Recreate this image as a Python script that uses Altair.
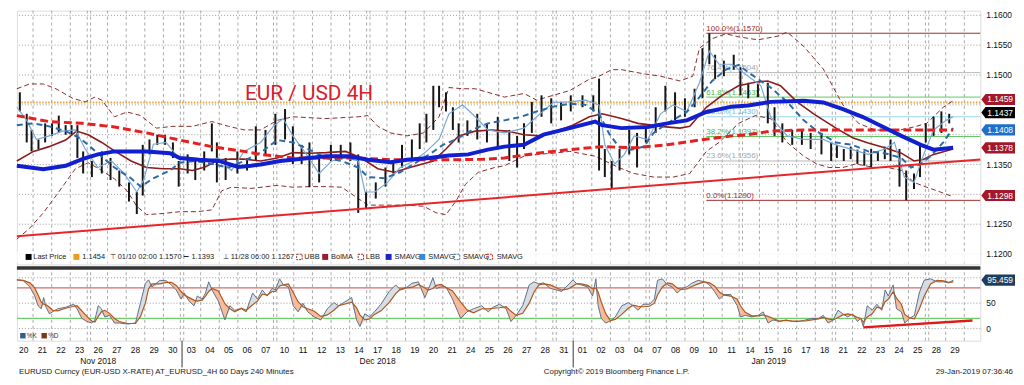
import json
import altair as alt
import pandas as pd

# ---------------- data ----------------
day_labels = ["20", "21", "22", "23", "26", "27", "28", "29", "30",
              "03", "04", "05", "06", "07", "10", "11", "12", "13", "14", "17", "18",
              "19", "20", "21", "24", "25", "26", "27", "28", "31",
              "01", "02", "03", "04", "07", "08", "09", "10", "11", "14", "15", "16",
              "17", "18", "21", "22", "23", "24", "25", "28", "29"]
month_names = ["Nov 2018", "Dec 2018", "Jan 2019"]
month_days = [9, 21, 21]
weekend_after = [3, 8, 13, 18, 23, 28, 33, 38, 43, 48]

price_labels = [1.1200, 1.1250, 1.1350, 1.1500, 1.1550, 1.1600]
stoch_labels = [0, 50]

# 4H price bars (time in trading days from 20 Nov), high / low
bar_t = [-0.21, 0.16, 0.42, 0.79, 1.15, 1.52, 1.88, 2.25, 2.57, 2.88,
         3.19, 3.66, 4.19, 4.66, 5.13, 5.65, 6.07, 6.39, 6.75, 7.17,
         7.59, 8.01, 8.32, 8.80, 9.21, 9.69, 10.10, 10.37, 10.84, 11.47,
         11.99, 12.46, 12.98, 13.51, 14.03, 14.45, 14.92, 15.34, 15.86, 16.49,
         17.02, 17.54, 17.96, 18.38, 18.90, 19.42, 19.84, 20.31, 20.84, 21.26,
         21.62, 21.99, 22.30, 22.67, 23.04, 23.35, 23.82, 24.35, 24.87, 25.45,
         26.07, 26.49, 26.86, 27.28, 27.80, 28.32, 28.85, 29.37, 30.00, 30.58,
         30.89, 31.20, 31.57, 31.99, 32.51, 32.93, 33.40, 33.93, 34.45, 34.97,
         35.50, 36.02, 36.44, 36.81, 37.12, 37.59, 38.12, 38.48, 38.90, 39.42,
         39.95, 40.31, 40.73, 41.26, 41.78, 42.25, 42.83, 43.35, 43.66, 44.03,
         44.40, 44.76, 45.13, 45.50, 45.86, 46.23, 46.54, 47.02, 47.38, 47.80,
         48.12, 48.43, 48.85, 49.27, 49.69]
bar_hi = [1.1471, 1.1435, 1.1408, 1.1392, 1.1419, 1.1419, 1.1432, 1.1416, 1.1416, 1.1416,
          1.1372, 1.1356, 1.1372, 1.1361, 1.1340, 1.1320, 1.1304, 1.1383, 1.1392, 1.1400,
          1.1400, 1.1387, 1.1356, 1.1367, 1.1356, 1.1372, 1.1419, 1.1387, 1.1361, 1.1372,
          1.1361, 1.1414, 1.1408, 1.1435, 1.1443, 1.1414, 1.1383, 1.1387, 1.1367, 1.1383,
          1.1383, 1.1387, 1.1367, 1.1304, 1.1320, 1.1345, 1.1356, 1.1383, 1.1392, 1.1419,
          1.1435, 1.1482, 1.1482, 1.1471, 1.1446, 1.1419, 1.1424, 1.1435, 1.1419, 1.1430,
          1.1408, 1.1398, 1.1419, 1.1455, 1.1466, 1.1461, 1.1455, 1.1466, 1.1466, 1.1466,
          1.1494, 1.1376, 1.1356, 1.1376, 1.1408, 1.1403, 1.1414, 1.1446, 1.1482, 1.1471,
          1.1461, 1.1477, 1.1545, 1.1570, 1.1534, 1.1524, 1.1534, 1.1513, 1.1487, 1.1485,
          1.1487, 1.1446, 1.1419, 1.1408, 1.1408, 1.1403, 1.1403, 1.1387, 1.1383, 1.1376,
          1.1380, 1.1375, 1.1372, 1.1376, 1.1372, 1.1380, 1.1392, 1.1376, 1.1340, 1.1335,
          1.1383, 1.1419, 1.1430, 1.1439, 1.1435]
bar_lo = [1.1439, 1.1387, 1.1372, 1.1376, 1.1387, 1.1398, 1.1403, 1.1400, 1.1400, 1.1361,
          1.1335, 1.1329, 1.1335, 1.1324, 1.1313, 1.1288, 1.1267, 1.1298, 1.1367, 1.1383,
          1.1383, 1.1361, 1.1313, 1.1335, 1.1324, 1.1340, 1.1372, 1.1320, 1.1324, 1.1335,
          1.1340, 1.1356, 1.1367, 1.1383, 1.1392, 1.1351, 1.1351, 1.1312, 1.1320, 1.1356,
          1.1361, 1.1356, 1.1269, 1.1277, 1.1293, 1.1313, 1.1335, 1.1345, 1.1361, 1.1376,
          1.1387, 1.1408, 1.1446, 1.1439, 1.1408, 1.1387, 1.1398, 1.1392, 1.1387, 1.1376,
          1.1356, 1.1345, 1.1376, 1.1403, 1.1430, 1.1419, 1.1424, 1.1439, 1.1446, 1.1439,
          1.1340, 1.1329, 1.1309, 1.1340, 1.1367, 1.1345, 1.1387, 1.1403, 1.1439, 1.1424,
          1.1430, 1.1446, 1.1461, 1.1518, 1.1493, 1.1498, 1.1509, 1.1466, 1.1461, 1.1463,
          1.1419, 1.1398, 1.1387, 1.1383, 1.1383, 1.1376, 1.1367, 1.1356, 1.1361, 1.1356,
          1.1359, 1.1351, 1.1348, 1.1345, 1.1356, 1.1359, 1.1356, 1.1313, 1.1290, 1.1309,
          1.1329, 1.1387, 1.1398, 1.1403, 1.1419]

# SMAVG (thick dark blue)
sma_blue_t = [-0.37, 1.05, 2.25, 3.14, 3.98, 4.87, 6.60, 7.85, 8.38, 9.42, 10.47, 11.52,
              12.20, 12.72, 13.77, 15.34, 16.23, 17.43, 18.48, 19.69, 20.58, 21.78, 22.83,
              23.87, 24.92, 25.81, 26.86, 27.91, 29.32, 30.68, 31.05, 32.09, 33.51, 34.55,
              35.60, 36.65, 38.01, 38.90, 40.10, 41.88, 42.93, 43.98, 45.03, 46.07, 47.12,
              48.17, 48.85, 49.90]
sma_blue_v = [1.1348, 1.1342, 1.1348, 1.1359, 1.1367, 1.1372, 1.1372, 1.1369, 1.1361, 1.1358,
              1.1356, 1.1346, 1.1348, 1.1350, 1.1356, 1.1361, 1.1364, 1.1364, 1.1358, 1.1354,
              1.1358, 1.1361, 1.1365, 1.1367, 1.1375, 1.1380, 1.1383, 1.1400, 1.1411, 1.1422,
              1.1416, 1.1411, 1.1413, 1.1419, 1.1424, 1.1438, 1.1447, 1.1449, 1.1455, 1.1457,
              1.1454, 1.1443, 1.1430, 1.1414, 1.1398, 1.1383, 1.1375, 1.1378]
# SMAVG (thick red dashed)
sma_red_t = [-0.37, 1.36, 3.14, 4.87, 6.60, 8.38, 10.10, 11.83, 12.72, 14.45, 16.23, 17.96,
             19.69, 21.47, 23.19, 24.92, 25.81, 27.54, 29.32, 31.05, 32.77, 34.55, 36.28,
             38.01, 38.90, 40.10, 41.88, 43.61, 45.34, 47.12, 48.85, 49.90]
sma_red_v = [1.1432, 1.1422, 1.1419, 1.1413, 1.1403, 1.1391, 1.1380, 1.1372, 1.1367, 1.1361,
             1.1361, 1.1361, 1.1358, 1.1358, 1.1358, 1.1359, 1.1361, 1.1369, 1.1375, 1.1380,
             1.1378, 1.1383, 1.1391, 1.1398, 1.1400, 1.1406, 1.1408, 1.1408, 1.1408, 1.1408,
             1.1408, 1.1408]
# BolMA (dark red)
bolma_t = [-0.37, 0.52, 1.36, 2.25, 2.83, 3.46, 4.19, 4.87, 5.76, 6.60, 7.49, 8.38, 9.06,
           9.74, 10.47, 11.15, 11.83, 12.72, 13.61, 14.45, 15.34, 16.23, 17.28, 18.12, 19.01,
           19.90, 20.73, 21.99, 22.67, 23.35, 24.24, 25.13, 25.97, 26.86, 27.75, 28.59, 29.48,
           30.37, 31.05, 32.09, 32.98, 34.19, 35.24, 35.76, 36.65, 37.49, 38.38, 39.27, 39.95,
           40.63, 41.52, 42.41, 43.61, 44.50, 45.34, 46.23, 47.12, 47.80, 48.32, 48.85, 49.90]
bolma_v = [1.1356, 1.1372, 1.1380, 1.1391, 1.1406, 1.1400, 1.1387, 1.1373, 1.1356, 1.1345,
           1.1343, 1.1343, 1.1340, 1.1346, 1.1358, 1.1359, 1.1359, 1.1356, 1.1361, 1.1370,
           1.1369, 1.1370, 1.1372, 1.1361, 1.1343, 1.1337, 1.1345, 1.1356, 1.1376, 1.1398,
           1.1406, 1.1408, 1.1406, 1.1400, 1.1398, 1.1406, 1.1416, 1.1430, 1.1435, 1.1427,
           1.1419, 1.1414, 1.1411, 1.1414, 1.1446, 1.1466, 1.1482, 1.1488, 1.1490, 1.1482,
           1.1455, 1.1435, 1.1411, 1.1395, 1.1386, 1.1378, 1.1369, 1.1356, 1.1359, 1.1367,
           1.1376]
# UBB / LBB
ubb_t = [-0.37, 0.31, 1.05, 1.73, 2.62, 3.30, 3.82, 4.19, 4.87, 5.55, 6.28, 7.12, 8.01, 9.06,
         10.10, 11.00, 11.83, 12.72, 13.61, 14.45, 16.23, 17.96, 18.48, 19.01, 19.69, 20.58,
         21.47, 22.30, 22.83, 23.56, 24.24, 24.92, 25.81, 26.86, 27.54, 28.43, 29.32, 30.37,
         30.89, 31.57, 32.09, 33.30, 34.19, 35.24, 35.92, 36.28, 36.96, 37.70, 38.38, 39.42,
         40.47, 40.99, 41.88, 42.93, 43.98, 44.82, 45.71, 46.75, 47.80, 48.48, 49.37, 49.90]
ubb_v = [1.1477, 1.1485, 1.1485, 1.1477, 1.1461, 1.1455, 1.1463, 1.1458, 1.1430, 1.1438,
         1.1432, 1.1411, 1.1414, 1.1414, 1.1422, 1.1414, 1.1408, 1.1408, 1.1424, 1.1430,
         1.1427, 1.1430, 1.1432, 1.1414, 1.1403, 1.1398, 1.1403, 1.1430, 1.1479, 1.1477,
         1.1477, 1.1471, 1.1463, 1.1469, 1.1458, 1.1466, 1.1474, 1.1493, 1.1498, 1.1509,
         1.1509, 1.1502, 1.1498, 1.1490, 1.1498, 1.1545, 1.1561, 1.1569, 1.1564, 1.1559,
         1.1565, 1.1572, 1.1548, 1.1510, 1.1450, 1.1419, 1.1408, 1.1406, 1.1413, 1.1419,
         1.1446, 1.1457]
lbb_t = [-0.37, 0.31, 1.05, 1.88, 2.77, 3.46, 4.03, 4.87, 5.55, 6.07, 6.60, 7.49, 8.38, 9.32,
         10.10, 10.63, 11.15, 12.20, 13.61, 14.45, 15.34, 16.23, 17.07, 17.96, 18.48, 19.69,
         20.58, 21.47, 22.15, 22.67, 23.19, 23.72, 24.40, 25.29, 25.81, 26.86, 27.54, 28.43,
         29.32, 30.68, 31.94, 32.77, 33.82, 34.87, 35.76, 36.65, 37.33, 38.38, 39.27, 40.10,
         40.99, 41.88, 42.57, 43.25, 43.98, 44.66, 45.71, 46.39, 47.12, 47.80, 48.48, 49.21,
         49.90]
lbb_v = [1.1225, 1.1243, 1.1269, 1.1304, 1.1343, 1.1353, 1.1343, 1.1326, 1.1306, 1.1280,
         1.1266, 1.1268, 1.1271, 1.1271, 1.1274, 1.1306, 1.1312, 1.1310, 1.1315, 1.1312,
         1.1313, 1.1313, 1.1312, 1.1293, 1.1282, 1.1282, 1.1282, 1.1280, 1.1269, 1.1266,
         1.1288, 1.1317, 1.1337, 1.1345, 1.1348, 1.1364, 1.1367, 1.1369, 1.1372, 1.1364,
         1.1345, 1.1335, 1.1329, 1.1329, 1.1335, 1.1372, 1.1387, 1.1419, 1.1432, 1.1427,
         1.1387, 1.1364, 1.1351, 1.1345, 1.1345, 1.1351, 1.1345, 1.1345, 1.1340, 1.1320,
         1.1312, 1.1304, 1.1296]
# SMAVG (blue dashed)
sma_dash_t = [-0.37, 0.52, 1.36, 2.25, 2.77, 3.14, 3.98, 4.87, 5.76, 6.28, 6.96, 7.85, 8.38,
              9.21, 10.10, 11.00, 11.83, 12.72, 13.61, 14.45, 15.34, 16.23, 17.07, 17.96,
              18.48, 19.37, 20.21, 20.94, 21.78, 22.51, 23.19, 24.08, 24.92, 25.81, 26.70,
              27.54, 28.43, 29.32, 30.16, 30.89, 31.41, 31.94, 32.62, 33.30, 33.82, 34.55,
              35.60, 36.28, 36.96, 37.70, 38.38, 39.06, 40.10, 40.99, 41.88, 42.72, 43.61,
              44.50, 45.34, 46.23, 47.12, 47.64, 48.17, 48.69, 49.37, 49.90]
sma_dash_v = [1.1416, 1.1419, 1.1414, 1.1406, 1.1398, 1.1391, 1.1369, 1.1345, 1.1327, 1.1313,
              1.1327, 1.1340, 1.1353, 1.1356, 1.1351, 1.1345, 1.1356, 1.1370, 1.1391, 1.1387,
              1.1375, 1.1361, 1.1356, 1.1345, 1.1329, 1.1327, 1.1337, 1.1351, 1.1367, 1.1383,
              1.1392, 1.1408, 1.1419, 1.1424, 1.1430, 1.1439, 1.1447, 1.1452, 1.1450, 1.1435,
              1.1403, 1.1380, 1.1375, 1.1380, 1.1403, 1.1419, 1.1438, 1.1463, 1.1490, 1.1509,
              1.1517, 1.1501, 1.1479, 1.1455, 1.1424, 1.1403, 1.1387, 1.1383, 1.1372, 1.1369,
              1.1361, 1.1345, 1.1351, 1.1364, 1.1387, 1.1411]
# SMAVG (light blue, short)
sma_fast_t = [-0.37, 0.16, 0.68, 1.36, 2.09, 2.77, 3.30, 3.98, 4.71, 5.39, 6.07, 6.44, 6.96,
              7.64, 8.38, 9.06, 9.74, 10.47, 11.15, 11.83, 12.72, 13.40, 13.93, 14.45, 15.18,
              15.86, 16.54, 17.28, 17.96, 18.32, 18.85, 19.53, 20.21, 20.94, 21.62, 22.30,
              22.83, 23.56, 24.24, 24.92, 25.81, 26.86, 27.54, 28.43, 29.32, 30.16, 30.89,
              31.20, 31.73, 32.25, 32.77, 33.51, 34.19, 34.87, 35.60, 36.28, 36.81, 37.33,
              38.01, 38.90, 39.58, 40.10, 40.99, 41.88, 42.93, 43.61, 44.50, 45.34, 46.23,
              46.75, 47.28, 47.80, 48.32, 48.85, 49.53, 49.90]
sma_fast_v = [1.1446, 1.1424, 1.1392, 1.1398, 1.1406, 1.1408, 1.1376, 1.1345, 1.1356, 1.1335,
              1.1304, 1.1324, 1.1384, 1.1387, 1.1359, 1.1361, 1.1356, 1.1361, 1.1340, 1.1372,
              1.1387, 1.1414, 1.1427, 1.1398, 1.1367, 1.1335, 1.1356, 1.1361, 1.1356, 1.1304,
              1.1304, 1.1320, 1.1345, 1.1356, 1.1372, 1.1392, 1.1435, 1.1450, 1.1430, 1.1408,
              1.1403, 1.1411, 1.1430, 1.1454, 1.1455, 1.1458, 1.1450, 1.1383, 1.1351, 1.1367,
              1.1398, 1.1392, 1.1435, 1.1450, 1.1439, 1.1487, 1.1540, 1.1518, 1.1518, 1.1498,
              1.1482, 1.1430, 1.1398, 1.1392, 1.1392, 1.1383, 1.1375, 1.1367, 1.1376, 1.1387,
              1.1329, 1.1320, 1.1367, 1.1408, 1.1424, 1.1430]

trend_t = [-0.37, 51.36]
trend_v = [1.12299, 1.13585]
last_price_line = 1.1454

fib_names = ["100.0%", "76.4%", "61.8%", "50.0%", "38.2%", "23.6%", "0.0%"]
fib_levels = [1.1570, 1.1504, 1.1463, 1.1430, 1.1397, 1.1356, 1.1290]
fib_start = 36.65

tag_values = [1.1459, 1.1437, 1.1408, 1.1378, 1.1298]

# Stochastic %K / %D
stoch_t = [-0.37, -0.02, 0.33, 0.59, 0.77, 0.94, 1.07, 1.20, 1.38, 1.55,
           1.82, 2.25, 2.69, 2.86, 3.12, 3.39, 3.65, 3.82, 4.00, 4.17,
           4.35, 4.61, 4.87, 5.13, 5.57, 6.00, 6.27, 6.53, 6.70, 6.88,
           7.31, 7.66, 7.92, 8.19, 8.45, 8.62, 8.88, 9.14, 9.32, 9.58,
           9.76, 9.93, 10.11, 10.45, 10.80, 11.07, 11.33, 11.68, 11.94, 12.29,
           12.55, 12.81, 13.07, 13.33, 13.51, 13.74, 13.94, 14.21, 14.47, 14.73,
           14.99, 15.25, 15.60, 15.95, 16.30, 16.65, 16.91, 17.61, 17.87, 18.05,
           18.31, 18.57, 18.83, 19.18, 19.62, 19.97, 20.23, 20.49, 20.84, 21.19,
           21.54, 21.71, 21.97, 22.15, 22.41, 22.67, 23.02, 23.46, 23.80, 24.15,
           24.59, 24.94, 25.20, 25.55, 25.90, 26.16, 26.44, 26.79, 27.14, 27.40,
           27.66, 27.92, 28.27, 28.62, 28.88, 29.23, 29.49, 29.67, 29.93, 30.28,
           30.54, 30.72, 30.84, 31.01, 31.24, 31.50, 31.76, 32.11, 32.46, 32.72,
           32.98, 33.25, 33.60, 33.86, 34.03, 34.29, 34.56, 34.82, 35.08, 35.34,
           35.60, 35.86, 36.21, 36.56, 36.82, 37.09, 37.35, 37.61, 37.96, 38.31,
           38.48, 38.74, 39.09, 39.44, 39.70, 39.97, 40.23, 40.58, 40.93, 41.27,
           41.62, 41.97, 42.32, 42.67, 42.93, 43.19, 43.46, 43.72, 43.98, 44.24,
           44.50, 44.76, 44.94, 45.08, 45.29, 45.55, 45.81, 46.07, 46.25, 46.42,
           46.68, 46.86, 47.12, 47.30, 47.56, 47.82, 48.08, 48.34, 48.69, 49.04,
           49.39, 49.65, 49.91]
stoch_k = [96, 94, 82, 64, 45, 39, 61, 42, 29, 33,
           39, 42, 48, 39, 20, 14, 11, 17, 45, 39,
           23, 26, 11, 11, 9, 11, 51, 89, 96, 82,
           95, 94, 86, 76, 58, 70, 54, 45, 64, 58,
           70, 92, 76, 54, 17, 45, 36, 39, 33, 70,
           58, 76, 64, 79, 76, 98, 86, 82, 45, 33,
           50, 33, 23, 17, 39, 51, 45, 61, 17, 4,
           29, 23, 33, 48, 73, 86, 76, 79, 89, 92,
           61, 76, 100, 79, 82, 82, 58, 20, 33, 39,
           45, 33, 42, 48, 39, 14, 26, 45, 86, 92,
           88, 90, 79, 76, 73, 86, 96, 89, 86, 82,
           64, 98, 45, 20, 11, 15, 23, 45, 51, 45,
           36, 48, 48, 58, 95, 98, 86, 82, 70, 79,
           82, 89, 95, 92, 86, 73, 58, 67, 67, 45,
           23, 26, 23, 26, 33, 11, 17, 14, 17, 14,
           14, 17, 20, 20, 26, 11, 17, 36, 29, 23,
           29, 14, 20, 4, 45, 36, 48, 36, 76, 64,
           86, 39, 33, 11, 20, 26, 70, 95, 98, 92,
           92, 90, 95.459]
stoch_d = [96, 95, 90, 80, 66, 52, 48, 47, 42, 36,
           35, 40, 44, 45, 35, 24, 15, 13, 24, 33,
           36, 30, 20, 14, 10, 10, 24, 50, 78, 88,
           88, 91, 91, 85, 73, 66, 61, 56, 54, 56,
           64, 73, 79, 74, 49, 39, 33, 40, 36, 47,
           54, 68, 66, 73, 73, 84, 86, 88, 71, 53,
           43, 39, 34, 24, 27, 36, 45, 52, 41, 27,
           17, 19, 28, 35, 51, 69, 78, 80, 81, 87,
           80, 76, 79, 85, 87, 81, 74, 52, 37, 31,
           39, 39, 40, 41, 43, 34, 26, 30, 50, 72,
           86, 88, 86, 80, 76, 78, 84, 88, 88, 85,
           78, 80, 72, 52, 30, 16, 18, 28, 40, 46,
           44, 43, 44, 50, 66, 82, 90, 88, 80, 77,
           78, 83, 88, 92, 90, 84, 72, 66, 64, 58,
           45, 32, 25, 25, 27, 24, 20, 15, 16, 15,
           15, 15, 17, 19, 22, 19, 17, 22, 27, 29,
           27, 22, 20, 13, 23, 29, 42, 40, 53, 58,
           72, 60, 48, 28, 21, 19, 38, 63, 88, 95,
           94, 91, 92]
stoch_trend_t = [45.08, 50.94]
stoch_trend_v = [2.4, 16.1]
stoch_levels = [80, 20]

# ---------------- layout / style ----------------
W, H1, H2 = 972, 256, 75
FONT = "Liberation Sans"
xs = alt.Scale(domain=[-0.366, 51.36], nice=False, zero=False)
ys = alt.Scale(domain=[1.11827, 1.16079], nice=False, zero=False)
ss = alt.Scale(domain=[-23.8, 122.5], nice=False, zero=False)


def X(f="t"):
    return alt.X(f"{f}:Q", scale=xs, axis=None)


def Y(f="v"):
    return alt.Y(f"{f}:Q", scale=ys, axis=None)


def S(f="v"):
    return alt.Y(f"{f}:Q", scale=ss, axis=None)


def line_df(t, v):
    return pd.DataFrame({"t": t, "v": v})


one = pd.DataFrame({"a": [0]})

# vertical grid positions (day boundaries, doubled on weekends)
grid_t = []
for d in range(51):
    b = d + 0.5
    if d in weekend_after:
        grid_t += [b - 0.09, b + 0.09]
    else:
        grid_t.append(b)
vgrid_df = pd.DataFrame({"t": grid_t})

# ---------------- top panel ----------------
tick_vals = [round(1.12 + 0.0025 * i, 4) for i in range(17)]

hgrid = alt.Chart(pd.DataFrame({"v": [round(1.12 + 0.005 * i, 4) for i in range(9)]})).mark_rule(
    color="#9a9a9a", strokeDash=[1, 2], strokeWidth=1).encode(
    y=alt.Y("v:Q", scale=ys, axis=alt.Axis(
        orient="right", values=tick_vals, labels=False, title=None, grid=False,
        domainColor="#000", tickColor="#000", tickSize=4)))
p_labels = alt.Chart(pd.DataFrame({"v": price_labels, "label": [f"{v:.4f}" for v in price_labels]})).mark_text(
    align="left", baseline="middle", fontSize=8.5, font=FONT, color="#111").encode(
    x=alt.value(W + 6), y=Y(), text="label:N")

vgrid = alt.Chart(vgrid_df).mark_rule(color="#a8a8a8", strokeDash=[3, 3], strokeWidth=1).encode(x=X())

band = alt.Chart(one).mark_rect(color="white", opacity=0.8).encode(
    x=alt.value(0), x2=alt.value(W), y=alt.value(243), y2=alt.value(254))

lp_line = alt.Chart(pd.DataFrame({"v": [last_price_line]})).mark_rule(
    color="#e8a534", strokeDash=[1.5, 1.5], strokeWidth=2).encode(y=Y())

fib_colors = ["#a02a2a", "#b8b8b8", "#62c862", "#92d4ee", "#62c862", "#b8b8b8", "#a02a2a"]
fib_text_colors = ["#a02a2a", "#a8a8a8", "#4cb84c", "#70c0e0", "#4cb84c", "#a8a8a8", "#a02a2a"]
fib_df = pd.DataFrame({
    "t0": [fib_start] * len(fib_levels), "t1": [51.36] * len(fib_levels),
    "v": fib_levels, "c": fib_colors, "tc": fib_text_colors,
    "label": [f"{n}({l:.4f})" for n, l in zip(fib_names, fib_levels)]})
fib_lines = alt.Chart(fib_df).mark_rule(strokeWidth=1).encode(
    x=alt.X("t0:Q", scale=xs, axis=None), x2="t1:Q", y=Y(), color=alt.Color("c:N", scale=None))
fib_text = alt.Chart(fib_df).mark_text(align="left", baseline="bottom", dy=-0.5, fontSize=8,
                                       font=FONT).encode(
    x=alt.X("t0:Q", scale=xs, axis=None), y=Y(), text="label:N", color=alt.Color("tc:N", scale=None))

ubb = alt.Chart(line_df(ubb_t, ubb_v)).mark_line(color="#8a2c2c", strokeWidth=1, strokeDash=[5, 3]).encode(x=X(), y=Y())
lbb = alt.Chart(line_df(lbb_t, lbb_v)).mark_line(color="#8a2c2c", strokeWidth=1, strokeDash=[5, 3]).encode(x=X(), y=Y())
bars = alt.Chart(pd.DataFrame({"t": bar_t, "hi": bar_hi, "lo": bar_lo})).mark_rule(
    color="#151515", strokeWidth=2).encode(x=X(), y=Y("lo"), y2="hi:Q")
bolma = alt.Chart(line_df(bolma_t, bolma_v)).mark_line(color="#8a1c1c", strokeWidth=1.6).encode(x=X(), y=Y())
sma_fast = alt.Chart(line_df(sma_fast_t, sma_fast_v)).mark_line(color="#78a8d8", strokeWidth=1.2).encode(x=X(), y=Y())
sma_dash = alt.Chart(line_df(sma_dash_t, sma_dash_v)).mark_line(color="#2a6aa8", strokeWidth=2, strokeDash=[6, 4]).encode(x=X(), y=Y())
sma_red = alt.Chart(line_df(sma_red_t, sma_red_v)).mark_line(color="#e62020", strokeWidth=3, strokeDash=[8, 4]).encode(x=X(), y=Y())
sma_blue = alt.Chart(line_df(sma_blue_t, sma_blue_v)).mark_line(color="#1020d0", strokeWidth=4).encode(x=X(), y=Y())
trend = alt.Chart(line_df(trend_t, trend_v)).mark_line(color="#e8262a", strokeWidth=2).encode(x=X(), y=Y())

title = alt.Chart(pd.DataFrame({"t": [11.88], "v": [1.1458], "label": ["EUR / USD 4H"]})).mark_text(
    align="left", baseline="alphabetic", fontSize=21, font="Roboto", color="#d8202a").encode(
    x=X(), y=Y(), text="label:N")

# legend strip
leg_items = pd.DataFrame({
    "px": [16.5, 66, 93.5, 168, 207.6, 290, 317, 352, 381, 415, 450, 484],
    "label": ["Last Price", "1.1454", "\u22a4 01/10 02:00 1.1570", "\u22a2 1.1393",
              "\u22a5 11/28 06:00 1.1267", "UBB", "BolMA", "LBB", "SMAVG", "SMAVG", "SMAVG", "SMAVG"]})
leg_text = alt.Chart(leg_items).mark_text(align="left", baseline="middle", fontSize=7.5, font=FONT,
                                          color="#222").encode(
    x=alt.X("px:Q", scale=None), y=alt.value(248.5), text="label:N")
leg_sq = pd.DataFrame({"px": [11.8, 60, 311, 375, 409], "c": ["#000000", "#f09a1e", "#9b1b30", "#1a22c8", "#2f8ce8"]})
leg_squares = alt.Chart(leg_sq).mark_point(shape="square", filled=True, size=36, opacity=1).encode(
    x=alt.X("px:Q", scale=None), y=alt.value(248.5), color=alt.Color("c:N", scale=None))
leg_br = pd.DataFrame({"px": [285, 347, 444, 477], "c": ["#8a2c2c", "#8a2c2c", "#2a6aa8", "#e62020"]})
leg_brackets = alt.Chart(leg_br).mark_point(shape="square", filled=False, size=30, strokeWidth=1,
                                            strokeDash=[2, 1], opacity=1).encode(
    x=alt.X("px:Q", scale=None), y=alt.value(248.5), color=alt.Color("c:N", scale=None))

TAG = "M -1 0 L -0.75 -0.33 L 1 -0.33 L 1 0.33 L -0.75 0.33 Z"
tag_df = pd.DataFrame({"v": tag_values, "c": ["#a3172b", "#000000", "#1e6fc8", "#a3172b", "#a3172b"],
                       "label": [f"{v:.4f}" for v in tag_values]})
tags = alt.Chart(tag_df).mark_point(shape=TAG, size=1156, filled=True, opacity=1, strokeWidth=0).encode(
    x=alt.value(W + 18), y=Y(), color=alt.Color("c:N", scale=None))
tag_text = alt.Chart(tag_df).mark_text(fontSize=8.5, font=FONT, color="white", baseline="middle").encode(
    x=alt.value(W + 20), y=Y(), text="label:N")

top = alt.layer(hgrid, vgrid, band, lp_line, fib_lines, fib_text, ubb, lbb, bars, bolma,
                sma_fast, sma_dash, sma_red, sma_blue, trend, title,
                leg_text, leg_squares, leg_brackets, p_labels, tags, tag_text).properties(width=W, height=H1)

# ---------------- bottom panel ----------------
st = pd.DataFrame({"t": stoch_t, "k": stoch_k, "d": stoch_d})
st["lo"] = st[["k", "d"]].min(axis=1)

s_hgrid = alt.Chart(pd.DataFrame({"v": [0, 50, 100]})).mark_rule(
    color="#9a9a9a", strokeDash=[1, 2], strokeWidth=1).encode(
    y=alt.Y("v:Q", scale=ss, axis=alt.Axis(
        orient="right", values=[0, 50, 100], labels=False, title=None, grid=False,
        domainColor="#000", tickColor="#000", tickSize=4)))
s_labels = alt.Chart(pd.DataFrame({"v": stoch_labels, "label": [str(v) for v in stoch_labels]})).mark_text(
    align="left", baseline="middle", fontSize=8.5, font=FONT, color="#111").encode(
    x=alt.value(W + 6), y=S(), text="label:N")
s_vgrid = alt.Chart(vgrid_df).mark_rule(color="#a8a8a8", strokeDash=[3, 3], strokeWidth=1).encode(x=X())
s_levels = alt.Chart(pd.DataFrame({"v": stoch_levels, "c": ["#d46a6a", "#6ccf6c"]})).mark_rule(
    strokeWidth=1.2).encode(y=S(), color=alt.Color("c:N", scale=None))
fill_d = alt.Chart(st).mark_area(color="#f6b592", opacity=0.9).encode(x=X(), y=S("d"), y2="lo:Q")
fill_k = alt.Chart(st).mark_area(color="#d3dae2", opacity=0.9).encode(x=X(), y=S("k"), y2="lo:Q")
k_line = alt.Chart(st).mark_line(color="#5c7088", strokeWidth=1).encode(x=X(), y=S("k"))
d_line = alt.Chart(st).mark_line(color="#b0581e", strokeWidth=1.2).encode(x=X(), y=S("d"))
s_trend = alt.Chart(line_df(stoch_trend_t, stoch_trend_v)).mark_line(
    color="#e01818", strokeWidth=2.5).encode(x=X(), y=S())
sep = alt.Chart(one).mark_rule(color="#353535", strokeWidth=3.5).encode(
    x=alt.value(0), x2=alt.value(W), y=alt.value(1.75))

s_leg = pd.DataFrame({"px": [6, 27.5], "c": ["#2d5e8e", "#7c3a14"], "label": ["%K", "%D"]})
s_leg_sq = alt.Chart(s_leg).mark_point(shape="square", filled=True, size=30, opacity=1).encode(
    x=alt.X("px:Q", scale=None), y=alt.value(70), color=alt.Color("c:N", scale=None))
s_leg_tx = alt.Chart(s_leg).mark_text(align="left", baseline="middle", fontSize=6.5, font=FONT,
                                      color="#333", dx=4).encode(
    x=alt.X("px:Q", scale=None), y=alt.value(70), text="label:N")

s_tag_df = pd.DataFrame({"v": [stoch_k[-1]], "label": [f"{stoch_k[-1]:.3f}"]})
s_tag = alt.Chart(s_tag_df).mark_point(shape=TAG, size=1156, filled=True, opacity=1, strokeWidth=0,
                                       color="#1c3d5e").encode(x=alt.value(W + 18), y=S())
s_tag_tx = alt.Chart(s_tag_df).mark_text(fontSize=8.5, font=FONT, color="white", baseline="middle").encode(
    x=alt.value(W + 20), y=S(), text="label:N")

# day labels, month labels and separators
days = alt.Chart(pd.DataFrame({"t": list(range(len(day_labels))), "label": day_labels})).mark_text(
    baseline="middle", fontSize=8.5, font=FONT, color="#111").encode(
    x=X(), y=alt.value(H2 + 9), text="label:N")
centers, start = [], 0
for n in month_days:
    centers.append(start + (n - 1) / 2)
    start += n
months = alt.Chart(pd.DataFrame({"t": centers, "label": month_names})).mark_text(
    baseline="middle", fontSize=8.5, font=FONT, color="#111").encode(
    x=X(), y=alt.value(H2 + 21), text="label:N")
seps = [sum(month_days[:i + 1]) - 0.5 for i in range(len(month_days) - 1)]
month_sep = alt.Chart(pd.DataFrame({"t": seps})).mark_rule(color="#333", strokeWidth=1).encode(
    x=X(), y=alt.value(H2), y2=alt.value(H2 + 27))

foot_l = alt.Chart(pd.DataFrame({"label": ["EURUSD Curncy (EUR-USD X-RATE) AT_EURUSD_4H 60 Days 240 Minutes"]})).mark_text(
    align="left", baseline="middle", fontSize=8, font=FONT, color="#222").encode(
    x=alt.value(2), y=alt.value(H2 + 32), text="label:N")
foot_c = alt.Chart(pd.DataFrame({"label": ["Copyright\u00a9 2019 Bloomberg Finance L.P."]})).mark_text(
    align="center", baseline="middle", fontSize=8, font=FONT, color="#222").encode(
    x=alt.value(605), y=alt.value(H2 + 32), text="label:N")
foot_r = alt.Chart(pd.DataFrame({"label": ["29-Jan-2019 07:36:46"]})).mark_text(
    align="right", baseline="middle", fontSize=8, font=FONT, color="#222").encode(
    x=alt.value(1005), y=alt.value(H2 + 32), text="label:N")

bottom = alt.layer(s_hgrid, s_vgrid, s_levels, fill_d, fill_k, k_line, d_line, s_trend, sep,
                   s_leg_sq, s_leg_tx, s_labels, s_tag, s_tag_tx, days, months, month_sep,
                   foot_l, foot_c, foot_r).properties(width=W, height=H2)

chart = alt.vconcat(top, bottom, spacing=0).properties(
    padding={"left": 0, "right": 0, "top": 0, "bottom": 0}, background="white"
).configure_view(stroke=None).configure(font=FONT)

chart.save("out.html", embed_options={"renderer": "svg", "actions": False})
